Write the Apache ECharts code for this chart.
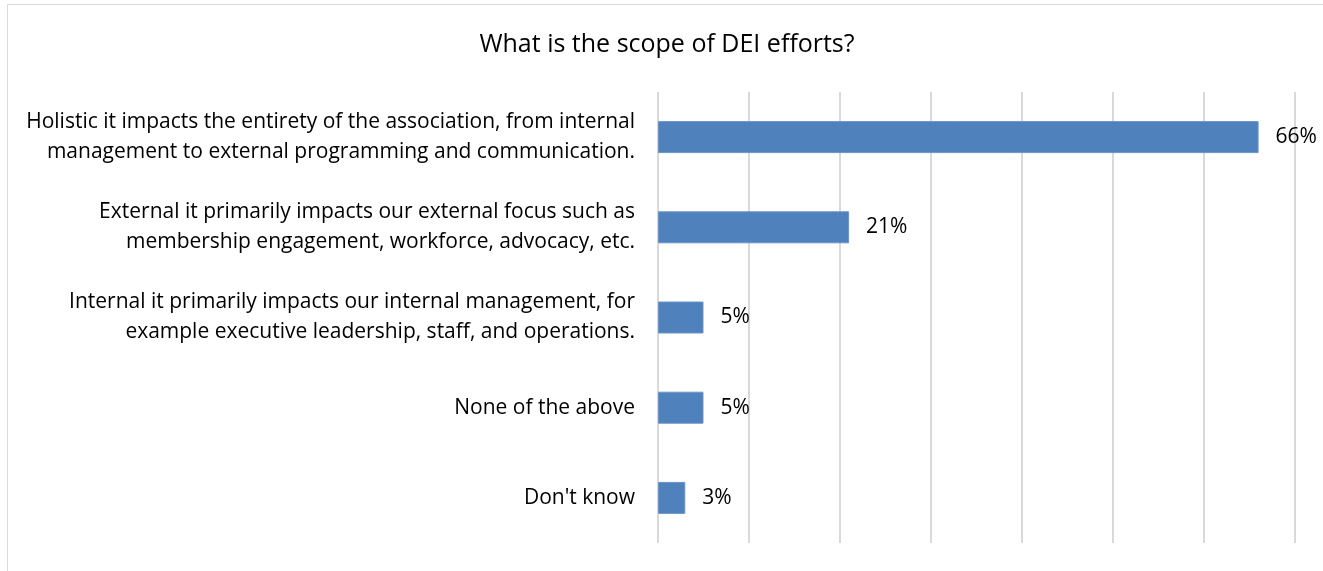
<!DOCTYPE html>
<html>
<head>
<meta charset="utf-8">
<script src="https://cdn.jsdelivr.net/npm/echarts@6/dist/echarts.min.js"></script>
<style>
  html, body { margin: 0; padding: 0; background: #fff; }
  #chart { width: 1323px; height: 571px; }
</style>
</head>
<body>
<div id="chart"></div>
<script>
// Survey responses, listed top to bottom
const categories = [
  "Holistic it impacts the entirety of the association, from internal\nmanagement to external programming and communication.",
  "External it primarily impacts our external focus such as\nmembership engagement, workforce, advocacy, etc.",
  "Internal it primarily impacts our internal management, for\nexample executive leadership, staff, and operations.",
  "None of the above",
  "Don't know"
];
const shares = [66, 21, 5, 5, 3];

const FONT = '"Open Sans", "Noto Sans", sans-serif';
const chart = echarts.init(document.getElementById('chart'), null, { renderer: 'canvas' });

chart.setOption({
  animation: false,
  backgroundColor: '#fff',
  title: {
    text: 'What is the scope of DEI efforts?',
    left: 662,
    top: 27,
    textAlign: 'center',
    textStyle: { fontFamily: FONT, fontSize: 25, fontWeight: 'normal', color: '#000' }
  },
  graphic: [{
    type: 'rect',
    shape: { x: 7.5, y: 4.5, width: 1400, height: 700 },
    style: { fill: 'none', stroke: '#d9d9d9', lineWidth: 1 },
    silent: true,
    z: -1
  }],
  grid: { left: 658, top: 92, width: 637, height: 451, containLabel: false },
  xAxis: {
    type: 'value',
    min: 0,
    max: 70,
    interval: 10,
    axisLabel: { show: false },
    axisLine: { show: false },
    axisTick: { show: false },
    splitLine: { lineStyle: { color: '#d9d9d9', width: 2 } }
  },
  yAxis: {
    type: 'category',
    inverse: true,
    data: categories,
    axisLine: { show: false },
    axisTick: { show: false },
    axisLabel: {
      margin: 23,
      align: 'right',
      fontFamily: FONT,
      fontSize: 21,
      lineHeight: 30,
      color: '#000'
    }
  },
  series: [{
    type: 'bar',
    data: shares,
    barWidth: 32,
    itemStyle: { color: '#4f81bd', borderColor: '#6a95c9', borderWidth: 1 },
    label: {
      show: true,
      position: 'right',
      distance: 17,
      formatter: p => p.value + '%',
      fontFamily: FONT,
      fontSize: 21,
      color: '#000'
    }
  }]
});
</script>
</body>
</html>
